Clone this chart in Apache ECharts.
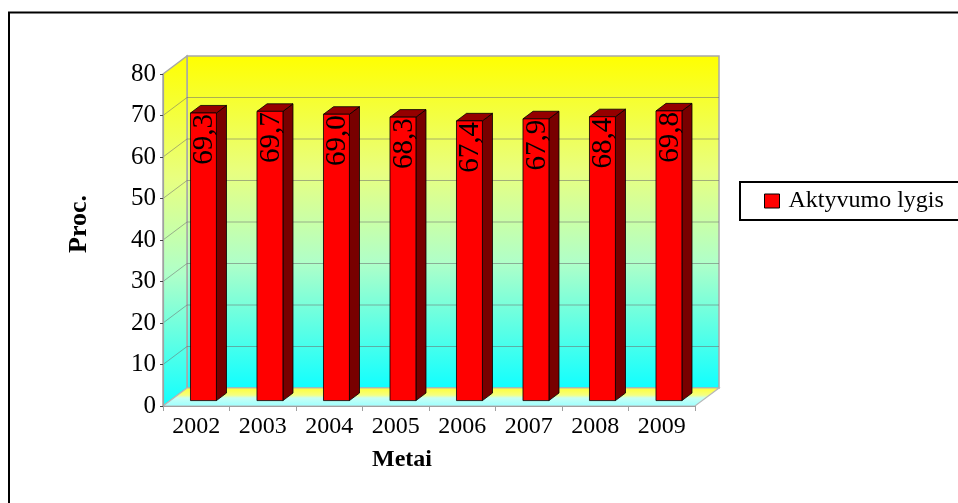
<!DOCTYPE html>
<html><head><meta charset="utf-8">
<script src="https://cdn.jsdelivr.net/npm/echarts@6/dist/echarts.min.js"></script>
<style>html,body{margin:0;padding:0;background:#fff}#chart{width:958px;height:503px}</style>
</head><body><div id="chart"></div>
<script>
var categories = ['2002', '2003', '2004', '2005', '2006', '2007', '2008', '2009'];
var activityRate = [69.3, 69.7, 69.0, 68.3, 67.4, 67.9, 68.4, 69.8];
var yTicks = [0, 10, 20, 30, 40, 50, 60, 70, 80];
var seriesName = 'Aktyvumo lygis';
var xTitle = 'Metai';
var yTitle = 'Proc.';

var DX = 24, DY = -18;
var FONT = '"Liberation Serif", "Times New Roman", serif';

function fmt(v) { return v.toFixed(1).replace('.', ','); }

function wallGradient() {
  return new echarts.graphic.LinearGradient(0, 0, 0, 1, [
    {offset: 0, color: '#FFFF00'},
    {offset: 0.35, color: '#E8FF80'},
    {offset: 0.62, color: '#B0FFC8'},
    {offset: 1, color: '#10FFFF'}
  ]);
}

function renderWalls(params, api) {
  var cs = params.coordSys;
  var xL = cs.x, xR = cs.x + cs.width;
  var yTop = api.coord([0, yTicks[yTicks.length - 1]])[1];
  var yBot = api.coord([0, yTicks[0]])[1];
  var ch = [];
  ch.push({type: 'polygon', shape: {points: [[xL + DX, yTop + DY], [xR + DX, yTop + DY], [xR + DX, yBot + DY], [xL + DX, yBot + DY]]},
    style: {fill: wallGradient(), stroke: '#a8a8a8', lineWidth: 1.5}});
  ch.push({type: 'polygon', shape: {points: [[xL, yTop], [xL + DX, yTop + DY], [xL + DX, yBot + DY], [xL, yBot]]},
    style: {fill: wallGradient(), stroke: '#a8a8a8', lineWidth: 1.5}});
  ch.push({type: 'polygon', shape: {points: [[xL, yBot], [xL + DX, yBot + DY], [xR + DX, yBot + DY], [xR, yBot]]},
    style: {fill: new echarts.graphic.LinearGradient(0, 0, 0, 1, [
      {offset: 0, color: '#FFFF30'}, {offset: 0.4, color: '#F6FF80'},
      {offset: 0.55, color: '#C8FFF4'}, {offset: 1, color: '#9CFFFF'}]),
      stroke: '#b8b8b8', lineWidth: 1.2}});
  for (var i = 1; i < yTicks.length - 1; i++) {
    var y = api.coord([0, yTicks[i]])[1];
    ch.push({type: 'line', shape: {x1: xL + DX, y1: y + DY, x2: xR + DX, y2: y + DY},
      style: {stroke: 'rgba(110,110,110,0.55)', lineWidth: 1}});
    ch.push({type: 'line', shape: {x1: xL, y1: y, x2: xL + DX, y2: y + DY},
      style: {stroke: 'rgba(110,110,110,0.55)', lineWidth: 1}});
  }
  return {type: 'group', children: ch};
}

function renderBar(params, api) {
  var idx = api.value(0), v = api.value(1);
  var c = api.coord([idx, v]);
  var b = api.coord([idx, 0]);
  var band = api.size([1, 0])[0];
  var w = band * 0.39;
  var f = 0.3, k = 0.72;
  var fx = c[0] - w / 2 + DX * f;
  var fy0 = c[1] + DY * f, fy1 = b[1] + DY * f;
  var sx = DX * (k - f), sy = DY * (k - f);
  return {type: 'group', children: [
    {type: 'polygon', shape: {points: [[fx + w, fy0], [fx + w + sx, fy0 + sy], [fx + w + sx, fy1 + sy], [fx + w, fy1]]},
      style: {fill: '#780000', stroke: '#000', lineWidth: 0.8}},
    {type: 'polygon', shape: {points: [[fx, fy0], [fx + sx, fy0 + sy], [fx + w + sx, fy0 + sy], [fx + w, fy0]]},
      style: {fill: '#950000', stroke: '#000', lineWidth: 0.8}},
    {type: 'rect', shape: {x: fx, y: fy0, width: w, height: fy1 - fy0},
      style: {fill: '#FF0000', stroke: '#000', lineWidth: 0.8}},
    {type: 'text', x: fx + w / 2 + 1, y: fy0 + 1, rotation: Math.PI / 2,
      style: {text: fmt(v), x: 0, y: 0, align: 'right', verticalAlign: 'middle',
        font: '29px ' + FONT, fill: '#000'}}
  ]};
}

var chart = echarts.init(document.getElementById('chart'), null, {renderer: 'canvas'});
chart.setOption({
  animation: false,
  backgroundColor: '#fff',
  grid: {left: 163, right: 263, top: 74, bottom: 97},
  xAxis: {
    type: 'category', data: categories, boundaryGap: true, z: 5,
    name: xTitle, nameLocation: 'middle', nameGap: 42,
    nameTextStyle: {fontFamily: FONT, fontSize: 24, fontWeight: 'bold', color: '#000', padding: [0, 54, 0, 0]},
    axisLine: {show: true, lineStyle: {color: '#a0a0a0', width: 1.2}},
    axisTick: {show: true, length: 5, lineStyle: {color: '#a0a0a0'}},
    axisLabel: {fontFamily: FONT, fontSize: 24, color: '#000', margin: 9},
    splitLine: {show: false}
  },
  yAxis: {
    type: 'value', min: 0, max: 80, interval: 10, z: 5,
    name: yTitle, nameLocation: 'middle', nameGap: 71, nameRotate: 90,
    nameTextStyle: {fontFamily: FONT, fontSize: 26, fontWeight: 'bold', color: '#000', padding: [0, 0, 0, 32]},
    axisLine: {show: true, lineStyle: {color: '#a0a0a0', width: 1.2}},
    axisTick: {show: true, length: 3, lineStyle: {color: '#444'}},
    axisLabel: {fontFamily: FONT, fontSize: 25, color: '#000', margin: 7},
    splitLine: {show: false}
  },
  legend: {
    data: [{name: seriesName, icon: 'rect'}], selectedMode: false,
    left: 740, top: 182, orient: 'vertical',
    itemWidth: 15, itemHeight: 14,
    padding: [7, 40, 7, 24], borderColor: '#000', borderWidth: 2,
    itemStyle: {borderColor: '#000', borderWidth: 1},
    textStyle: {fontFamily: FONT, fontSize: 24, color: '#000', padding: [0, 0, 0, 4]}
  },
  graphic: [{type: 'rect', z: 100, shape: {x: 9, y: 12.5, width: 1000, height: 600},
    style: {fill: null, stroke: '#000', lineWidth: 2}}],
  series: [
    {type: 'custom', name: '_walls', z: 1, silent: true, clip: false,
      data: [[0, 0]], renderItem: renderWalls},
    {type: 'custom', name: seriesName, z: 3, clip: false,
      itemStyle: {color: '#FF0000'},
      data: activityRate.map(function (v, i) { return [i, v]; }),
      encode: {x: 0, y: 1}, renderItem: renderBar}
  ]
});
</script>
</body></html>
